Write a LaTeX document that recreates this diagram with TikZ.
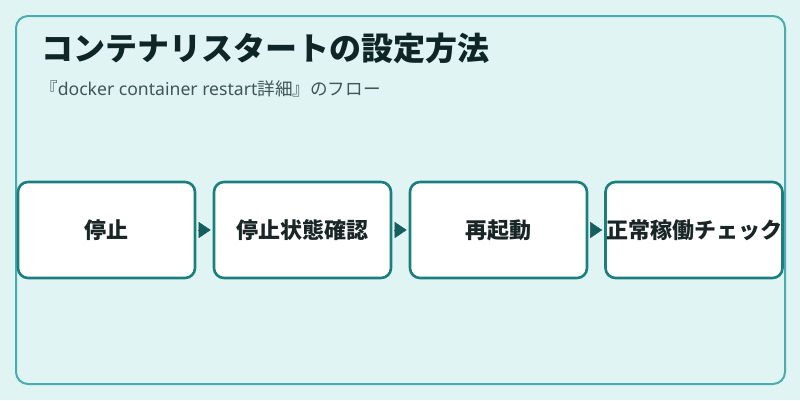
\documentclass[tikz,border=0pt]{standalone}
\usepackage{fontspec}
\setmainfont{Noto Sans CJK JP}
\newfontfamily\latinsans{Noto Sans}
\usetikzlibrary{arrows.meta}
\definecolor{bgc}{HTML}{E0F4F3}
\definecolor{framec}{HTML}{4AADAD}
\definecolor{boxc}{HTML}{1B7F7F}
\definecolor{arrc}{HTML}{165E5E}
\definecolor{titlec}{HTML}{0F2626}
\definecolor{subc}{HTML}{3D5656}
\definecolor{textc}{HTML}{1A2626}
\tikzset{
  stepbox/.style={draw=boxc, line width=2.6pt, fill=white, rounded corners=10pt,
    minimum width=177pt, minimum height=96pt, inner sep=0pt,
    font=\bfseries\fontsize{22}{25}\selectfont, text=textc},
  flowarrow/.style={draw=arrc, fill=arrc, line width=0.4pt,
    -{Triangle[length=12pt,width=16pt]}, shorten <=2pt, shorten >=2pt},
}
\begin{document}
\begin{tikzpicture}[x=1pt,y=-1pt]
\useasboundingbox (0,0) rectangle (800,400);
\fill[bgc] (0,0) rectangle (800,400);
\draw[framec, line width=2pt, rounded corners=12pt] (16,16) rectangle (785,384);
\node[anchor=base west, inner sep=0pt, text=titlec, font=\bfseries\fontsize{32}{38}\selectfont] (title) at (41,60) {コンテナリスタートの設定方法};
\node[anchor=base west, inner sep=0pt, text=subc, font=\fontsize{17.6}{21}\selectfont] (sub) at (40,95) {『{\latinsans docker container restart}詳細』のフロー};
\node[stepbox] (s1) at (106.5,230) {停止};
\node[stepbox] (s2) at (302.5,230) {停止状態確認};
\node[stepbox] (s3) at (498.5,230) {再起動};
\node[stepbox] (s4) at (694,230) {正常稼働チェック};
\draw[flowarrow] (s1.east) -- (s2.west);
\draw[flowarrow] (s2.east) -- (s3.west);
\draw[flowarrow] (s3.east) -- (s4.west);
\end{tikzpicture}
\end{document}
